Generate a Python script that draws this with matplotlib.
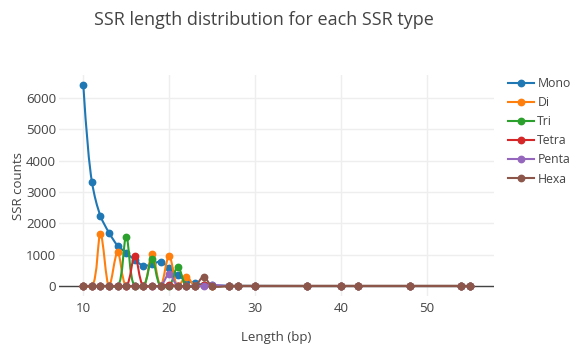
import numpy as np
import matplotlib
matplotlib.use("Agg")
import matplotlib.pyplot as plt
from matplotlib.path import Path
from matplotlib.patches import PathPatch
from matplotlib.lines import Line2D

plt.rcParams['font.family'] = ['Open Sans', 'DejaVu Sans']

# SSR length (bp) shared by all series
lengths = [10, 11, 12, 13, 14, 15, 16, 17, 18, 19, 20, 21, 22, 23, 24, 25,
           27, 28, 30, 36, 40, 42, 48, 54, 55]

mono  = [6420, 3330, 2240, 1700, 1290, 1060, 830, 650, 690, 780, 570, 350,
         170, 90, 40, 20, 8, 5, 3, 0, 0, 0, 0, 0, 0]
di    = [0, 0, 1650, 0, 1080, 0, 0, 0, 1010, 0, 965, 0,
         300, 0, 30, 0, 0, 0, 0, 0, 0, 0, 0, 0, 0]
tri   = [0, 0, 0, 0, 0, 1570, 0, 0, 870, 0, 0, 620,
         0, 0, 30, 0, 0, 0, 0, 0, 0, 0, 0, 0, 0]
tetra = [0, 0, 0, 0, 0, 0, 960, 0, 0, 0, 40, 0,
         0, 0, 20, 0, 0, 0, 0, 0, 0, 0, 0, 0, 0]
penta = [0, 0, 0, 0, 0, 0, 0, 0, 0, 0, 380, 0,
         0, 0, 0, 30, 0, 0, 0, 0, 0, 0, 0, 0, 0]
hexa  = [0, 0, 0, 0, 0, 0, 0, 0, 0, 0, 0, 0,
         0, 0, 290, 0, 0, 0, 0, 0, 0, 0, 0, 0, 0]

names = ["Mono", "Di", "Tri", "Tetra", "Penta", "Hexa"]
series = [mono, di, tri, tetra, penta, hexa]
colors = ["#1f77b4", "#ff7f0e", "#2ca02c", "#d62728", "#9467bd", "#8c564b"]


def spline_path(ax, xs, ys, smoothing=1.0):
    # plotly-like centripetal catmull-rom spline, built in pixel space
    pts = ax.transData.transform(np.column_stack([xs, ys]))
    n = len(pts)
    tang = []
    for i in range(1, n - 1):
        d1 = pts[i - 1] - pts[i]
        d2 = pts[i + 1] - pts[i]
        d1a = np.dot(d1, d1) ** 0.25
        d2a = np.dot(d2, d2) ** 0.25
        num = (d2a * d2a * d1 - d1a * d1a * d2) * smoothing
        den1 = 3 * d2a * (d1a + d2a)
        den2 = 3 * d1a * (d1a + d2a)
        tang.append((pts[i] + num / den1, pts[i] - num / den2))
    verts = [pts[0], tang[0][0], pts[1]]
    codes = [Path.MOVETO, Path.CURVE3, Path.CURVE3]
    for i in range(2, n - 1):
        verts += [tang[i - 2][1], tang[i - 1][0], pts[i]]
        codes += [Path.CURVE4] * 3
    verts += [tang[n - 3][1], pts[n - 1]]
    codes += [Path.CURVE3] * 2
    return Path(ax.transData.inverted().transform(np.array(verts)), codes)


fig = plt.figure(figsize=(5.74, 3.52), dpi=100)
ax = fig.add_axes([59 / 574, 1 - 296 / 352, 435 / 574, 221 / 352])
ax.set_xlim(7.17, 57.83)
ax.set_ylim(-320, 6740)

txt = "#444444"
for s in ax.spines.values():
    s.set_visible(False)
ax.set_xticks([10, 20, 30, 40, 50])
ax.set_yticks([0, 1000, 2000, 3000, 4000, 5000, 6000])
ax.grid(True, color="#eeeeee", linewidth=1)
ax.set_axisbelow(True)
ax.tick_params(length=0, labelsize=9.6, colors=txt, pad=2)
ax.tick_params(axis="x", pad=4)
ax.axhline(0, color="#444444", linewidth=1, zorder=1)

handles = []
for k, (name, ys, c) in enumerate(zip(names, series, colors)):
    p = spline_path(ax, lengths, ys)
    ax.add_patch(PathPatch(p, facecolor="none", edgecolor=c, linewidth=1.5,
                           zorder=2 + k * 0.1))
    ax.plot(lengths, ys, linestyle="none", marker="o", markersize=4.6,
            color=c, zorder=2.05 + k * 0.1)
    handles.append(Line2D([], [], color=c, linewidth=1.5, marker="o",
                          markersize=4.6))

ax.set_xlabel("Length (bp)", fontsize=9.5, color=txt, labelpad=12)
ax.set_ylabel("SSR counts", fontsize=9.5, color=txt, labelpad=1)
fig.text(264 / 574, 1 - 20 / 352, "SSR length distribution for each SSR type",
         ha="center", va="center", fontsize=13, color=txt)

fig.legend(handles, names, loc="upper left",
           bbox_to_anchor=(508 / 574, 1 - 77 / 352), frameon=False,
           fontsize=8.8, labelcolor=txt, handlelength=2.1, handletextpad=0.3,
           labelspacing=0.5, borderpad=0, borderaxespad=0)

fig.savefig("out.png", dpi=100)
